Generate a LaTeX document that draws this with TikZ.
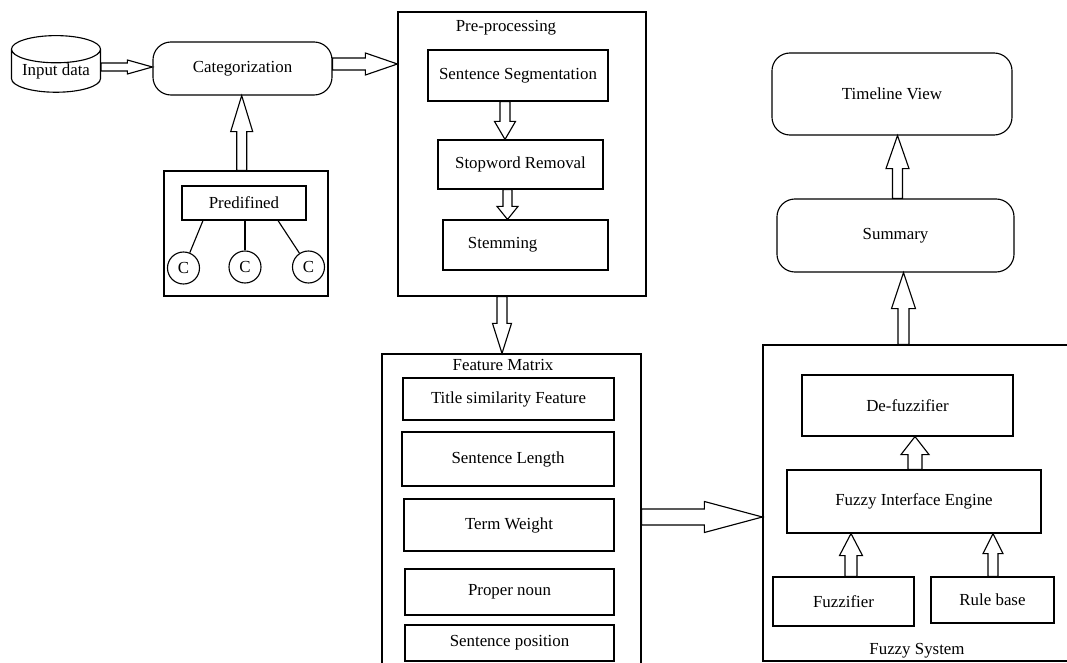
\documentclass[tikz,border=0pt]{standalone}
\usepackage{fontspec}
\setmainfont{Liberation Serif}
\usetikzlibrary{positioning,calc,shapes.geometric}

% hollow block arrow: start, tip, half shaft, half head, head length (px)
\newcommand{\fatarrow}[5]{%
  \coordinate (fa-s) at (#1);
  \coordinate (fa-t) at (#2);
  \coordinate (fa-b) at ($(fa-t)!#5*0.025cm!(fa-s)$);
  \draw[fatline]
    ($(fa-s)!#3*0.025cm!90:(fa-t)$) -- ($(fa-b)!#3*0.025cm!90:(fa-t)$)
    -- ($(fa-b)!#4*0.025cm!90:(fa-t)$) -- (fa-t)
    -- ($(fa-b)!#4*0.025cm!-90:(fa-t)$) -- ($(fa-b)!#3*0.025cm!-90:(fa-t)$)
    -- ($(fa-s)!#3*0.025cm!-90:(fa-t)$) -- cycle;}

\begin{document}
\begin{tikzpicture}[
    x=0.025cm, y=-0.025cm,
    line width=0.8pt,
    font=\fontsize{12}{14}\selectfont,
    box/.style={draw, inner sep=0pt},
    rbox/.style={draw, inner sep=0pt, rounded corners=0.45cm},
    frame/.style={draw, inner sep=0pt},
    cnode/.style={draw, circle, inner sep=0pt, minimum size=0.8cm},
    title/.style={inner sep=1pt},
    fatline/.style={line width=0.8pt, fill=white, line join=miter}
]
\useasboundingbox (0,0) rectangle (1067,663);
\clip (0,0) rectangle (1067,663);

% left part
\node[draw, cylinder, shape border rotate=90, aspect=0.4, inner sep=0pt,
      minimum width=2.225cm, minimum height=1.375cm] (indata) at (56,71) {Input data};
\node[rbox, minimum width=4.475cm, minimum height=1.325cm] (categ) at (242.5,68.5) {Categorization};

\node[frame, minimum width=4.1cm, minimum height=3.125cm] (predbox) at (246,233.5) {};
\node[box, minimum width=3.1cm, minimum height=0.85cm] (pred) at (244,203) {Predifined};
\node[cnode] (c1) at (183.5,268) {C};
\node[cnode] (c2) at (245,267) {C};
\node[cnode] (c3) at (308.5,267) {C};
\draw (203,0 |- pred.south) -- (c1);
\draw (c2 |- pred.south) -- (c2);
\draw (278,0 |- pred.south) -- (c3);

% pre-processing
\node[frame, minimum width=6.2cm, minimum height=7.1cm] (pre) at (522,154) {};
\node[title] (pretitle) at (506,28) {Pre-processing};
\node[box, minimum width=4.5cm, minimum height=1.275cm] (sseg) at (518,75.5) {Sentence Segmentation};
\node[box, minimum width=4.125cm, minimum height=1.225cm] (swr) at (520.5,164.5) {Stopword Removal};
\node[box, minimum height=1.25cm, text width=2.875cm, inner xsep=0.625cm, align=left] (stem) at (525.5,245) {Stemming};

% feature matrix
\node[frame, minimum width=6.475cm, minimum height=8.15cm] (fm) at (511.5,517) {};
\node[title] (fmtitle) at (503,365) {Feature Matrix};
\node[box, minimum width=5.275cm, minimum height=1.05cm] (tsf) at (508.5,399) {Title similarity Feature};
\node[box, minimum width=5.3cm, minimum height=1.35cm] (slen) at (508,459) {Sentence Length};
\node[box, minimum width=5.25cm, minimum height=1.3cm] (tw) at (509,525) {Term Weight};
\node[box, minimum width=5.225cm, minimum height=1.15cm] (pn) at (509.5,592) {Proper noun};
\node[box, minimum width=5.225cm, minimum height=0.9cm] (spos) at (509.5,643) {Sentence position};

% fuzzy system
\node[frame, minimum width=7.925cm, minimum height=7.9cm] (fuzzy) at (921.5,503) {};
\node[title] (fztitle) at (917,651) {Fuzzy System};
\node[box, minimum width=5.275cm, minimum height=1.525cm] (defz) at (907.5,405.5) {De-fuzzifier};
\node[box, minimum width=6.35cm, minimum height=1.575cm] (fie) at (914,501.5) {Fuzzy Interface Engine};
\node[box, minimum width=3.525cm, minimum height=1.225cm] (fzf) at (843.5,601.5) {Fuzzifier};
\node[box, minimum width=3.075cm, minimum height=1.15cm] (rule) at (992.5,600) {Rule base};

% output
\node[rbox, minimum width=5.925cm, minimum height=1.825cm] (summ) at (895.5,235.5) {Summary};
\node[rbox, minimum width=6cm, minimum height=2.05cm] (tview) at (892,94) {Timeline View};

% arrows
\fatarrow{indata.east |- 0,67}{categ.west |- 0,67}{4}{7}{25}
\fatarrow{categ.east |- 0,64}{pre.west |- 0,64}{6}{11}{32}
\fatarrow{241.7,0 |- predbox.north}{241.7,0 |- categ.south}{5}{11}{36}
\fatarrow{505,0 |- sseg.south}{505,0 |- swr.north}{5}{10.5}{18}
\fatarrow{507.5,0 |- swr.south}{507.5,0 |- stem.north}{4.5}{10.5}{13}
\fatarrow{502,0 |- pre.south}{502,0 |- fm.north}{5}{9.5}{30}
\fatarrow{fm.east |- 0,517}{fuzzy.west |- 0,517}{8}{15.5}{58}
\fatarrow{915,0 |- fie.north}{915,0 |- defz.south}{7}{14}{18}
\fatarrow{851,0 |- fzf.north}{851,0 |- fie.south}{6}{11.5}{22}
\fatarrow{993,0 |- rule.north}{993,0 |- fie.south}{5}{10}{20}
\fatarrow{903.5,0 |- fuzzy.north}{903.5,0 |- summ.south}{5.5}{12}{36}
\fatarrow{897.5,0 |- summ.north}{897.5,0 |- tview.south}{5}{11.5}{33}
\end{tikzpicture}
\end{document}
